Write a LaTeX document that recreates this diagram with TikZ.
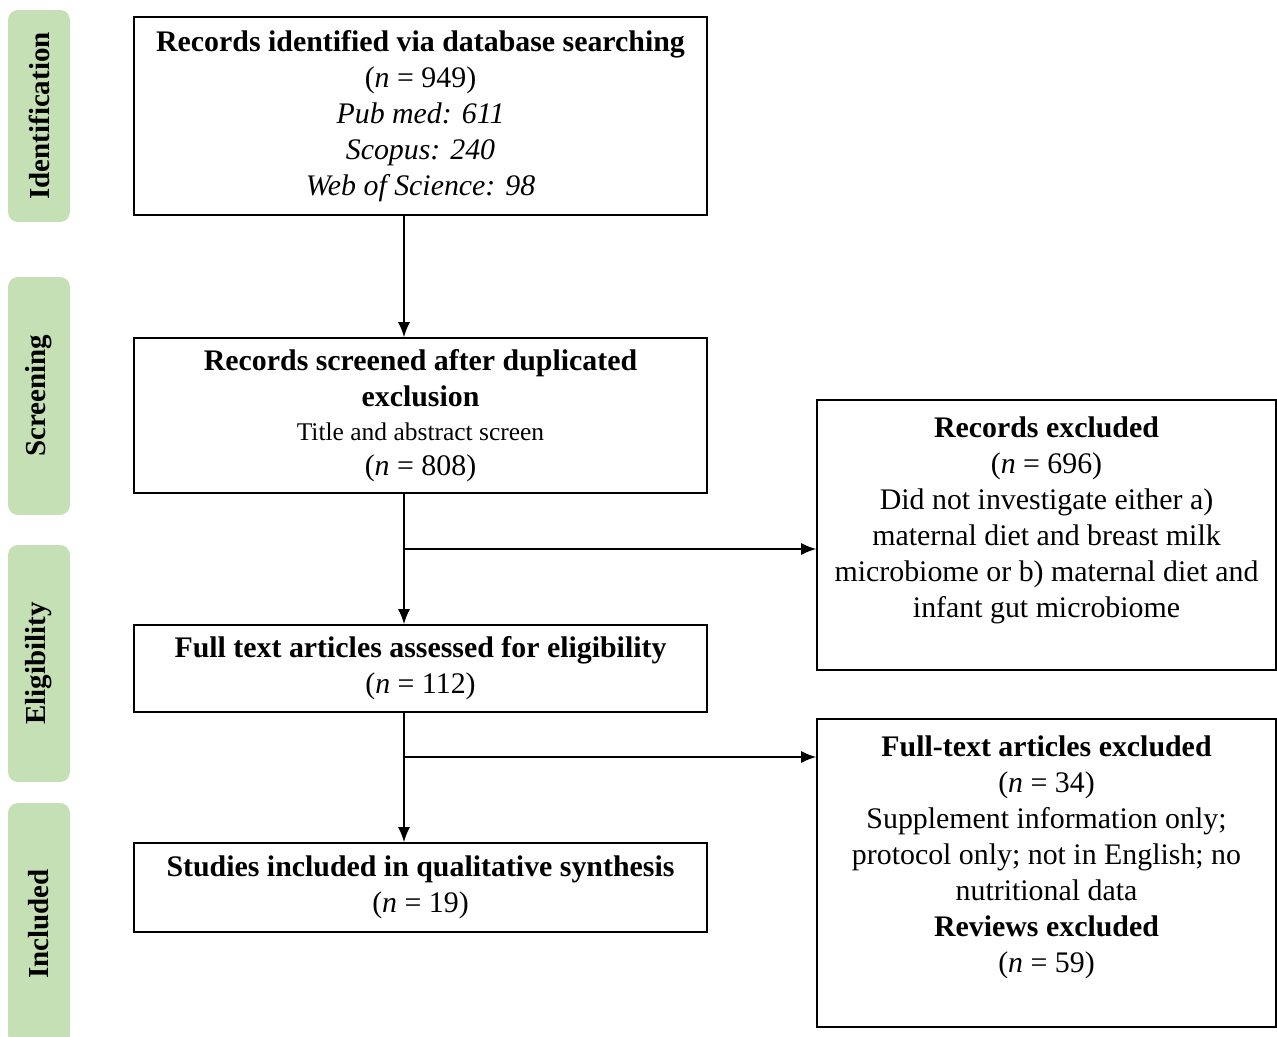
\documentclass[tikz,border=0pt]{standalone}
\usepackage{fontspec}
\setmainfont{Liberation Serif}
\usetikzlibrary{arrows.meta}
\definecolor{stagegreen}{RGB}{197,224,180}

\begin{document}
\begin{tikzpicture}[x=0.02cm,y=-0.02cm] % 1 unit = 1 px of the reference
\tikzstyle{stage} = [rounded corners=0.2cm, fill=stagegreen, rotate=90, minimum height=1.24cm, inner sep=0pt, font=\fontsize{16.5}{20}\selectfont\bfseries] % stage label style
\tikzstyle{box} = [draw, line width=1pt, minimum width=11.46cm, align=center, inner sep=0pt, font=\fontsize{17}{20.5}\selectfont] % main box style
\tikzstyle{side} = [draw, line width=1pt, minimum width=9.18cm, inner sep=0pt] % excluded box style
\tikzstyle{side text} = [anchor=north, yshift=-0.34cm, inner sep=0pt, align=center, font=\fontsize{17}{20.5}\selectfont]
\tikzstyle{arr} = [-{Latex[length=0.3cm,width=0.24cm]}, line width=0.8pt]
\useasboundingbox (0,0) rectangle (1277,1037);
% stages
\node[stage, minimum width=4.24cm] (ident) at (39,116) {Identification};
\node[stage, minimum width=4.76cm] (screen) at (39,396) {Screening};
\node[stage, minimum width=4.74cm] (elig) at (39,663.5) {Eligibility};
\node[stage, minimum width=4.84cm] (inclst) at (39,924) {Included};
% main column
\node[box, minimum height=3.96cm] (rec) at (420.5,116) {\textbf{Records identified via database searching}\\(\textit{n} = 949)\\\textit{Pub med: 611}\\\textit{Scopus: 240}\\\textit{Web of Science: 98}};
\node[box, minimum height=3.1cm] (scr) at (420.5,415.5) {\textbf{Records screened after duplicated}\\\textbf{exclusion}\\[-1pt]{\fontsize{14.5}{18}\selectfont Title and abstract screen}\\[-1pt](\textit{n} = 808)};
\node[box, minimum height=1.74cm] (full) at (420.5,668.5) {\textbf{Full text articles assessed for eligibility}\\(\textit{n} = 112)};
\node[box, minimum height=1.78cm] (incl) at (420.5,887.5) {\textbf{Studies included in qualitative synthesis}\\(\textit{n} = 19)};
% excluded boxes
\node[side, minimum height=5.4cm, label={[side text]north:{\textbf{Records excluded}\\(\textit{n} = 696)\\Did not investigate either a)\\maternal diet and breast milk\\microbiome or b) maternal diet and\\infant gut microbiome}}] (exa) at (1046.5,535) {};
\node[side, minimum height=6.16cm, label={[side text]north:{\textbf{Full-text articles excluded}\\(\textit{n} = 34)\\Supplement information only;\\protocol only; not in English; no\\nutritional data\\\textbf{Reviews excluded}\\(\textit{n} = 59)}}] (exb) at (1046.5,873) {};
% arrows
\coordinate (ax) at (404,0);
\coordinate (ja) at (404,549);
\coordinate (jb) at (404,757);
\draw[arr] (rec.south -| ax) -- (scr.north -| ax);
\draw[arr] (scr.south -| ax) -- (full.north -| ax);
\draw[arr] (full.south -| ax) -- (incl.north -| ax);
\draw[arr] (ja) -- (ja -| exa.west);
\draw[arr] (jb) -- (jb -| exb.west);
\end{tikzpicture}
\end{document}
